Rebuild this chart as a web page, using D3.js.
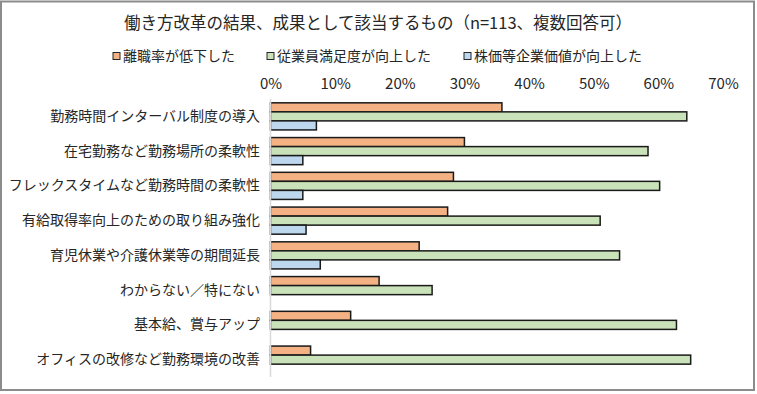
<!DOCTYPE html>
<html>
<head>
<meta charset="utf-8">
<script src="https://cdn.jsdelivr.net/npm/d3@7"></script>
<style>
  body { margin: 0; background: #fff; }
  svg text { font-family: "Noto Sans CJK JP", "Noto Sans", sans-serif; fill: #262626; }
</style>
</head>
<body>
<div id="chart"></div>
<script>
var categories = [
  "勤務時間インターバル制度の導入",
  "在宅勤務など勤務場所の柔軟性",
  "フレックスタイムなど勤務時間の柔軟性",
  "有給取得率向上のための取り組み強化",
  "育児休業や介護休業等の期間延長",
  "わからない／特にない",
  "基本給、賞与アップ",
  "オフィスの改修など勤務環境の改善"
];
var seriesNames = ["離職率が低下した", "従業員満足度が向上した", "株価等企業価値が向上した"];
var turnover = [0.358, 0.300, 0.283, 0.274, 0.230, 0.168, 0.124, 0.062];
var satisfaction = [0.644, 0.584, 0.602, 0.510, 0.540, 0.250, 0.628, 0.650];
var stockValue = [0.071, 0.050, 0.050, 0.055, 0.077, 0, 0, 0];
var tickValues = [0, 0.1, 0.2, 0.3, 0.4, 0.5, 0.6, 0.7];
var colors = ["#f4b183", "#c9e2b9", "#bdd7ee"];

var width = 757, height = 394;
var seriesValues = [turnover, satisfaction, stockValue];

var svg = d3.select("#chart").append("svg")
  .attr("width", width)
  .attr("height", height);

// outer frame
svg.append("rect")
  .attr("x", 1).attr("y", 1.5)
  .attr("width", 753).attr("height", 388.5)
  .attr("fill", "#fff")
  .attr("stroke", "#8c8c8c")
  .attr("stroke-width", 2);

// title
svg.append("text")
  .attr("x", 378).attr("y", 23)
  .attr("dy", "0.35em")
  .attr("text-anchor", "middle")
  .style("font-size", "16.5px")
  .text("働き方改革の結果、成果として該当するもの（n=113、複数回答可）");

// legend
var legendX = [113, 267, 464];
var legend = svg.append("g").selectAll("g")
  .data(seriesNames)
  .enter().append("g")
  .attr("transform", function(d, i) { return "translate(" + legendX[i] + ",56)"; });

legend.append("rect")
  .attr("x", 0).attr("y", -3.5)
  .attr("width", 7).attr("height", 7)
  .attr("fill", function(d, i) { return colors[i]; })
  .attr("stroke", "#262626")
  .attr("stroke-width", 1);

legend.append("text")
  .attr("x", 10)
  .attr("dy", "0.35em")
  .style("font-size", "14px")
  .text(function(d) { return d; });

// scales
var x = d3.scaleLinear()
  .domain([0, 0.7])
  .range([270.5, 723]);

var y0 = d3.scaleBand()
  .domain(categories)
  .range([99, 377])
  .paddingInner(0.22)
  .paddingOuter(0.11);

var y1 = d3.scaleBand()
  .domain([0, 1, 2])
  .range([0, y0.bandwidth()]);

// top axis (labels only)
svg.append("g")
  .attr("transform", "translate(0,84)")
  .call(d3.axisTop(x)
    .tickValues(tickValues)
    .tickSize(0)
    .tickPadding(0)
    .tickFormat(d3.format(".0%")))
  .call(function(g) {
    g.select(".domain").remove();
    g.selectAll("text")
      .attr("dy", "0.35em")
      .attr("fill", null)
      .style("font-size", "15px");
  });

// category labels
svg.append("g")
  .attr("transform", "translate(260,0)")
  .call(d3.axisLeft(y0).tickSize(0).tickPadding(0))
  .call(function(g) {
    g.select(".domain").remove();
    g.selectAll("text")
      .attr("fill", null)
      .style("font-size", "14px");
  });

// bars
seriesValues.forEach(function(vals, s) {
  svg.append("g")
    .selectAll("rect")
    .data(vals.map(function(v, i) { return {cat: categories[i], value: v}; })
      .filter(function(d) { return d.value > 0; }))
    .enter().append("rect")
    .attr("x", x(0))
    .attr("y", function(d) { return y0(d.cat) + y1(s); })
    .attr("width", function(d) { return x(d.value) - x(0); })
    .attr("height", y1.bandwidth())
    .attr("fill", colors[s])
    .attr("stroke", "#1a1a1a")
    .attr("stroke-width", 1.5);
});

// vertical axis line
svg.append("line")
  .attr("x1", x(0)).attr("x2", x(0))
  .attr("y1", 99).attr("y2", 377)
  .attr("stroke", "#d9d9d9")
  .attr("stroke-width", 1.5);
</script>
</body>
</html>
